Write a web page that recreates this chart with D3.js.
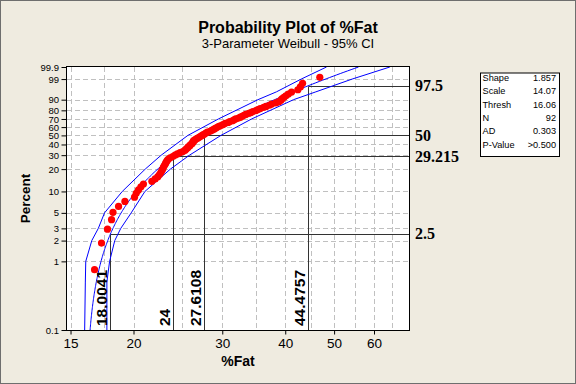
<!DOCTYPE html>
<html><head><meta charset="utf-8">
<script src="https://cdn.jsdelivr.net/npm/d3@7"></script>
<style>body{margin:0;background:#EFEBE0;} svg{display:block}</style>
</head><body><svg id="c" width="576" height="384"></svg>
<script>
// ---- data ----
const fatValues = [16.74,17.28,17.76,18.09,18.21,18.68,19.23,20.09,20.25,20.46,
  20.69,20.93,21.75,22.08,22.35,22.52,22.66,22.77,22.87,22.93,
  23.04,23.14,23.22,23.32,23.43,23.64,23.93,24.18,24.44,24.74,
  25.05,25.31,25.42,25.60,25.67,25.87,25.93,26.12,26.18,26.30,
  26.32,26.51,26.69,26.88,27.07,27.27,27.46,27.66,27.84,28.04,
  28.38,28.58,28.79,28.99,29.20,29.42,29.64,29.98,30.20,30.42,
  30.80,31.04,31.42,31.66,31.90,32.32,32.59,32.86,33.13,33.40,
  33.87,34.19,34.50,34.98,35.29,35.68,36.24,36.64,37.20,37.59,
  38.33,38.86,39.21,39.39,39.75,40.12,40.58,41.17,42.37,42.86,
  43.29,46.84];
const yTickPercents = [0.1,1,2,3,5,10,20,30,40,50,60,70,80,90,99,99.9];
const yTickLabels = ["0.1","1","2","3","5","10","20","30","40","50","60","70","80","90","99","99.9"];
const yGridPercents = [1,2,3,5,10,20,30,40,50,60,70,80,90,99];
const xTickValues = [15,20,30,40,50,60];
const xTickLabels = ["15","20","30","40","50","60"];
const xGridValues = [15,17.5,20,25,30,35,40,45,50,55,60,65];
const ciPercents = [0.1,0.5,1,2,3,5,10,20,30,50,70,90,95,99,99.9];
const ciLower = [16.00,16.05,16.08,16.53,17.03,17.52,19.00,21.10,22.70,25.64,29.47,35.31,38.42,43.03,48.30];
const ciUpper = [17.71,17.71,17.93,18.36,18.87,19.79,21.07,23.67,25.83,29.82,34.30,41.54,46.00,54.30,64.50];
const refPercents = [2.5, 29.215, 50, 97.5];
const refValues = [18.0041, 24, 27.6108, 44.4757];
const refPercentLabels = ["2.5","29.215","50","97.5"];
const refValueLabels = ["18.0041","24","27.6108","44.4757"];
const statNames = ["Shape","Scale","Thresh","N","AD","P-Value"];
const statValues = ["1.857","14.07","16.06","92","0.303",">0.500"];
const shape = 1.857, scaleP = 14.07, thresh = 16.06;

// ---- layout ----
const W=576, H=384, L=67, R=409, T=67, B=330;
const svg = d3.select("#c");
const tf = p => Math.log10(-Math.log(1-p));           // Weibull probability transform
const x = d3.scaleLog().domain([14.76, 70.4]).range([L, R]);
const y = d3.scaleLinear().domain([tf(0.001), tf(0.999)]).range([B, T]);
const yp = pct => y(tf(pct/100));

svg.append("rect").attr("x",0.5).attr("y",0.5).attr("width",W-1).attr("height",H-1)
  .attr("fill","#EFEBE0").attr("stroke","#6e6e6e");
svg.append("rect").attr("x",L).attr("y",T).attr("width",R-L).attr("height",B-T).attr("fill","#fff");

svg.append("defs").append("clipPath").attr("id","pc").append("rect")
  .attr("x",L).attr("y",T).attr("width",R-L).attr("height",B-T);
const g = svg.append("g").attr("clip-path","url(#pc)");

// gridlines
g.selectAll(".gx").data(xGridValues).join("line")
  .attr("x1",d=>Math.round(x(d))+0.5).attr("x2",d=>Math.round(x(d))+0.5)
  .attr("y1",T).attr("y2",B).attr("stroke","#c0c0c0").attr("stroke-dasharray","5,3");
g.selectAll(".gy").data(yGridPercents).join("line")
  .attr("y1",d=>Math.round(yp(d))+0.5).attr("y2",d=>Math.round(yp(d))+0.5)
  .attr("x1",L).attr("x2",R).attr("stroke","#c0c0c0").attr("stroke-dasharray","5,3");

// reference percentile lines
refPercents.forEach((p,i)=>{
  const xx = Math.round(x(refValues[i]))+0.5, yy = Math.round(yp(p))+0.5;
  g.append("line").attr("x1",xx).attr("x2",R).attr("y1",yy).attr("y2",yy).attr("stroke","#333");
  g.append("line").attr("x1",xx).attr("x2",xx).attr("y1",yy).attr("y2",B).attr("stroke","#333");
});

// fitted line and CI
const line = d3.line().x(d=>x(d[0])).y(d=>d[1]);
const fitPts = d3.range(0,201).map(k=>{
  const t = tf(0.001) + (tf(0.999)-tf(0.001))*k/200;
  return [thresh + scaleP*Math.pow(Math.pow(10,t),1/shape), y(t)];
});
g.append("path").attr("d",line(fitPts)).attr("fill","none").attr("stroke","#0000ff").attr("stroke-width",1);
g.append("path").attr("d",line(ciPercents.map((p,i)=>[ciLower[i],yp(p)]))).attr("fill","none").attr("stroke","#0000ff");
g.append("path").attr("d",line(ciPercents.map((p,i)=>[ciUpper[i],yp(p)]))).attr("fill","none").attr("stroke","#0000ff");

// points
const n = fatValues.length;
g.selectAll(".pt").data(fatValues).join("circle")
  .attr("cx",d=>x(d)).attr("cy",(d,i)=>y(tf((i+1-0.3)/(n+0.4))))
  .attr("r",3.6).attr("fill","#ff0000");

// frame
svg.append("rect").attr("x",L-0.5).attr("y",T-0.5).attr("width",R-L+1).attr("height",B-T+1)
  .attr("fill","none").attr("stroke","#000");

// axes
const ax = svg.append("g").attr("transform",`translate(0,${B+0.5})`)
  .call(d3.axisBottom(x).tickValues(xTickValues).tickFormat((d,i)=>xTickLabels[i]).tickSize(4).tickSizeOuter(0));
ax.select(".domain").remove();
ax.selectAll("text").attr("dy",null).attr("y",17.5).attr("font-family","Liberation Sans, Arial, sans-serif").attr("font-size",13.5).attr("fill","#000");

const ay = svg.append("g").attr("transform",`translate(${L-0.5},0)`)
  .call(d3.axisLeft(y).tickValues(yTickPercents.map(p=>tf(p/100))).tickFormat((d,i)=>yTickLabels[i]).tickSize(5).tickPadding(2.5).tickSizeOuter(0));
ay.select(".domain").remove();
ay.selectAll("text").attr("font-family","Liberation Sans, Arial, sans-serif").attr("font-size",9.5).attr("fill","#000");

// reference labels
refPercents.forEach((p,i)=>{
  svg.append("text").attr("x",R+6).attr("y",yp(p)).attr("dy","0.35em")
    .attr("font-family","Liberation Serif, Times New Roman, serif").attr("font-weight","bold").attr("font-size",16)
    .text(refPercentLabels[i]);
  const xx = Math.round(x(refValues[i]));
  svg.append("text").attr("transform",`translate(${xx-3},${B-4}) rotate(-90)`)
    .attr("font-family","Liberation Sans, Arial, sans-serif").attr("font-weight","bold").attr("font-size",15.5)
    .text(refValueLabels[i]);
});

// titles
svg.append("text").attr("x",288).attr("y",32.5).attr("text-anchor","middle")
  .attr("font-family","Liberation Sans, Arial, sans-serif").attr("font-weight","bold").attr("font-size",16)
  .text("Probability Plot of %Fat");
svg.append("text").attr("x",288).attr("y",48).attr("text-anchor","middle")
  .attr("font-family","Liberation Sans, Arial, sans-serif").attr("font-size",13)
  .text("3-Parameter Weibull - 95% CI");
svg.append("text").attr("x",(L+R)/2).attr("y",366).attr("text-anchor","middle")
  .attr("font-family","Liberation Sans, Arial, sans-serif").attr("font-weight","bold").attr("font-size",14)
  .text("%Fat");
svg.append("text").attr("transform",`translate(29.5,${(T+B)/2}) rotate(-90)`).attr("text-anchor","middle")
  .attr("font-family","Liberation Sans, Arial, sans-serif").attr("font-weight","bold").attr("font-size",13.5)
  .text("Percent");

// stats box
const bx=480, by=72.5, bw=79, bh=83.5;
svg.append("rect").attr("x",bx+0.5).attr("y",by+0.5).attr("width",bw).attr("height",bh).attr("fill","#fff").attr("stroke","#000");
statNames.forEach((s,i)=>{
  const yy = 81 + i*13.35;
  svg.append("text").attr("x",bx+2.5).attr("y",yy).attr("font-family","Liberation Sans, Arial, sans-serif").attr("font-size",9.2).text(s);
  svg.append("text").attr("x",bx+bw-3).attr("y",yy).attr("text-anchor","end").attr("font-family","Liberation Sans, Arial, sans-serif").attr("font-size",9.2).text(statValues[i]);
});
</script></body></html>
